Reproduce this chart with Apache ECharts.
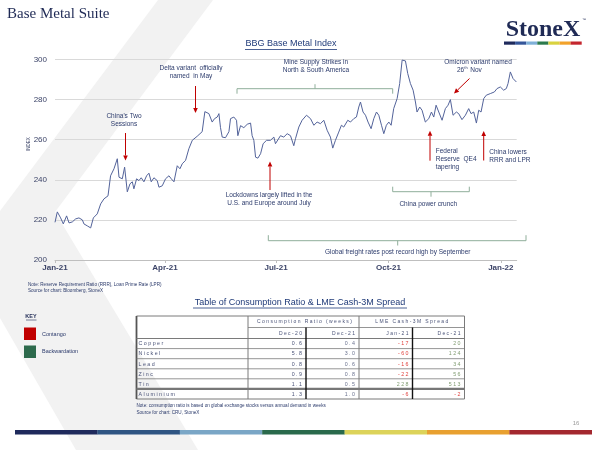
<!DOCTYPE html>
<html>
<head>
<meta charset="utf-8">
<script src="https://cdn.jsdelivr.net/npm/echarts@6/dist/echarts.min.js"></script>
<style>
html,body{margin:0;padding:0;background:#fff;}
#c{width:600px;height:450px;}
</style>
</head>
<body>
<div id="c"></div>
<script>
// ---- Data ----
// Day offsets since 1 Jan 2021
var dayOffsets = [
0,1.9,4.6,6.8,9.5,11.5,14.2,16.9,19.6,22.4,
23.7,26.5,29.2,31.4,34.6,37.4,40.1,43.4,45.5,48.3,
51,52.4,55.1,57,59.2,61.4,63.3,64.6,66.8,68.7,
70.6,72.8,75,76.9,78.8,81,83.7,85.1,87.8,90.5,
93.3,95.2,97.4,100.1,102.3,104.2,106.9,109.6,112.4,116.4,
120.5,122.7,126,128.7,130.6,132.8,134.2,135.5,136.9,139.6,
142.4,143.7,146.4,148.6,149.7,151.9,154.6,157.4,160.1,161.4,
162.8,164.2,166.1,168.3,170.4,173.2,176.4,179.2,180.5,181.9,
184.6,187.3,190.1,192.8,195.5,196.9,199.6,202.3,205.9,209.2,
211.9,214.6,217.3,220.1,222.8,225.5,227.4,229.6,232.3,234.5,
236.4,239.7,241.9,244.6,246.8,248.7,250.1,252.2,254.2,256.3,
258.8,261,263.2,265.1,267.3,269.2,271.3,273.3,275.2,277.3,
280.1,282.2,284.2,286.9,288.8,291,293.2,295.1,296.4,298.6,
300.5,303.2,306,308.2,310.1,312,314.2,316.9,319.6,321.8,
323.7,325.9,328.6,330.5,333.2,336,338.7,340.6,342.8,345,
346.9,348.8,351,353.1,356.4,359.7,361.9,364.6,367.3,369.5,
370.9,372.8,375,377.7
];
var indexValues = [
218.8,224,221,218,222,218.5,219,220.5,221,220,
218,217,216,221,223,228,230.5,232,242,245.5,
250.5,241.3,240.5,246.3,234,238,239,235.5,240.5,239.6,
241,239,242,243.3,239,241,239.6,236.3,237,240.5,
242,240.5,239,247,245.5,248,249.7,255.5,259.7,261.7,
264,274,273,268.8,270.5,271.3,273,266,261.3,261,
264,270.5,271.3,269.7,262,267,266,267.7,268.3,262,
259.7,251.3,250.8,253,258,259.7,259.7,261.3,258,258.8,
262,261.3,263,262,257,260.5,266.3,269.7,272.2,270.5,
267.2,268.8,268,269.7,264.7,261.3,255.8,259.7,263.8,267.2,
266.3,269.7,268.8,270.5,271.3,276.3,278.8,273.8,272.2,268.8,
265.5,270.5,273.8,272.2,267.2,263,267.2,268.8,267.2,275.5,
280.5,288,299.7,299.3,293,288,284.7,278.8,273.8,276.3,
274.7,268.8,270.5,273.8,271.3,277.2,273.8,269.7,275.5,277.2,
280,272.2,273.8,273,270,272.2,275.5,273,273.8,268.3,
274.7,273.8,280.5,282.2,283,283.8,285.5,286.3,284.7,285.5,
288,293.8,290.5,288.8
];
var tickDays = [0, 90, 181, 273, 365];
var tickLabels = ['Jan-21', 'Apr-21', 'Jul-21', 'Oct-21', 'Jan-22'];

var metals = ['Copper', 'Nickel', 'Lead', 'Zinc', 'Tin', 'Aluminium'];
var consDec20 = ['0.6', '5.8', '0.8', '0.9', '1.1', '1.3'];
var consDec21 = ['0.4', '3.0', '0.6', '0.8', '0.5', '1.0'];
var spreadJan21 = [-17, -60, -16, -22, 228, -6];
var spreadDec21 = [20, 124, 34, 56, 513, -2];
var tableHeaders = ['Consumption Ratio (weeks)', 'LME Cash-3M Spread'];
var subHeaders = ['Dec-20', 'Dec-21', 'Jan-21', 'Dec-21'];

// ---- Helpers ----
var SANS = '"Liberation Sans", Arial, sans-serif';
var SERIF = '"Liberation Serif", "Times New Roman", serif';
var NAVY = '#2b3a6b';
var G = [];
function txt(x, y, text, o) {
  o = o || {};
  return {
    type: 'text', x: x, y: y, silent: true, z: o.z || 10,
    rotation: o.rotation || 0,
    style: {
      text: text, fill: o.fill || NAVY,
      fontSize: o.size || 6.5, fontFamily: o.family || SANS,
      fontWeight: o.weight || 'normal',
      textAlign: o.align || 'center', align: o.align || 'center',
      textVerticalAlign: 'middle', verticalAlign: 'middle'
    }
  };
}
function ln(x1, y1, x2, y2, color, w, z) {
  return { type: 'line', silent: true, z: z || 10,
    shape: { x1: x1, y1: y1, x2: x2, y2: y2 },
    style: { stroke: color, lineWidth: w || 1 } };
}
function rc(x, y, w, h, fill, z) {
  return { type: 'rect', silent: true, z: z || 10,
    shape: { x: x, y: y, width: w, height: h }, style: { fill: fill } };
}
function arrow(x1, y1, x2, y2) {
  var dx = x2 - x1, dy = y2 - y1, L = Math.sqrt(dx * dx + dy * dy);
  var ux = dx / L, uy = dy / L, hl = 5, hw = 2.3;
  var bx = x2 - ux * hl, by = y2 - uy * hl;
  G.push(ln(x1, y1, bx, by, '#c00000', 1));
  G.push({ type: 'polygon', silent: true, z: 10,
    shape: { points: [[x2, y2], [bx - uy * hw, by + ux * hw], [bx + uy * hw, by - ux * hw]] },
    style: { fill: '#c00000' } });
}
function bracket(x1, x2, y, endDy, midX, midDy) {
  var c = '#8fae9a';
  G.push(ln(x1, y, x2, y, c, 1));
  G.push(ln(x1, y, x1, y + endDy, c, 1));
  G.push(ln(x2, y, x2, y + endDy, c, 1));
  G.push(ln(midX, y, midX, y + midDy, c, 1));
}
function spaced(s) { return s.split('').join(' '); }

// ---- Watermark ----
G.push({ type: 'polygon', silent: true, z: -10,
  shape: { points: [[158, 0], [213, 0], [55, 212], [198, 450], [76, 450], [0, 318], [0, 211]] },
  style: { fill: '#f2f2f2' } });

// ---- Header ----
G.push(txt(7, 14, 'Base Metal Suite', { align: 'left', size: 15, family: SERIF, fill: '#1f2a55' }));
G.push(txt(543, 30, 'StoneX', { size: 24, family: SERIF, fill: '#1f2a55', weight: 'bold' }));
G.push(txt(584, 20, '\u2122', { size: 4, fill: '#1f2a55' }));
var logoColors = ['#1f2a5c', '#34569a', '#7fb0d8', '#2b7a4c', '#d9d23f', '#f2a22a', '#c4262e'];
for (var i = 0; i < 7; i++) G.push(rc(504 + i * 11.1, 41.5, 11.1, 3.2, logoColors[i]));

// Chart title
G.push(txt(291, 44, 'BBG Base Metal Index', { size: 9, fill: '#1f3a78' }));
G.push(ln(245, 49.5, 337, 49.5, '#1f3a78', 0.8));

// Y axis name (tiny rotated)
G.push(txt(29, 144, 'INDEX', { size: 4.5, rotation: Math.PI / 2, fill: '#3c4468' }));

// ---- Annotations ----
G.push(txt(124, 116.5, "China's Two"));
G.push(txt(124, 124.5, 'Sessions'));
arrow(125.5, 133, 125.5, 160.5);

G.push(txt(191, 68.5, 'Delta variant  officially'));
G.push(txt(191, 76.5, 'named  in May'));
arrow(195.5, 86, 195.5, 113);

G.push(txt(316, 62.7, 'Mine Supply Strikes in'));
G.push(txt(316, 70.7, 'North & South America'));
bracket(237, 392.7, 88.7, 5, 315, -4.5);

G.push(txt(269, 195.5, 'Lockdowns largely lifted in the'));
G.push(txt(269, 203.3, 'U.S. and Europe around July'));
arrow(270, 190, 270, 161.5);

G.push(txt(478, 62.7, 'Omicron variant named'));
G.push(txt(457, 70.3, '26', { align: 'left' }));
G.push(txt(464.3, 68.3, 'th', { align: 'left', size: 4 }));
G.push(txt(468.5, 70.3, ' Nov', { align: 'left' }));
arrow(469.5, 78.5, 454, 93.5);

G.push(txt(435.7, 151, 'Federal', { align: 'left' }));
G.push(txt(435.7, 159, 'Reserve  QE4', { align: 'left' }));
G.push(txt(435.7, 167.3, 'tapering', { align: 'left' }));
arrow(430, 160.7, 430, 130.7);

G.push(txt(489.3, 152.3, 'China lowers', { align: 'left' }));
G.push(txt(489.3, 160.3, 'RRR and LPR', { align: 'left' }));
arrow(483.7, 160.5, 483.7, 131);

bracket(392.7, 469.3, 191.7, -5, 431, 5);
G.push(txt(428.3, 204, 'China power crunch'));

bracket(268.3, 526, 240.7, -5.5, 397.7, 4.8);
G.push(txt(397.7, 252, 'Global freight rates post record high by September'));

// Chart notes
G.push(txt(28, 285, 'Note: Reserve Requirement Ratio (RRR), Loan Prime Rate (LPR)', { align: 'left', size: 4.6 }));
G.push(txt(28, 290.5, 'Source for chart: Bloomberg, StoneX', { align: 'left', size: 4.6 }));

// ---- Key ----
G.push(txt(31, 316.7, 'KEY', { size: 5.5, weight: 'bold', fill: '#1f2a55' }));
G.push(ln(26, 320, 36.5, 320, '#1f2a55', 0.6));
G.push(rc(24, 327.5, 12, 12.5, '#c00000'));
G.push(txt(42, 334, 'Contango', { align: 'left', size: 5.5 }));
G.push(rc(24, 345.5, 12, 12.5, '#2d6a4c'));
G.push(txt(42, 351.8, 'Backwardation', { align: 'left', size: 5.5 }));

// ---- Table ----
G.push(txt(300, 302.5, 'Table of Consumption Ratio & LME Cash-3M Spread', { size: 9, fill: '#1f3a78' }));
G.push(ln(193, 308, 407, 308, '#1f3a78', 0.8));

var TL = 136.5, TR = 464.5, TT = 316, TB = 399;
var colX = [248, 306, 359, 412.5, 464.5];
var rowY = [338.5, 348.6, 358.7, 368.8, 378.8, 388.9, 399];
var gridC = '#7a7a7a', txtC = '#4a5378';
G.push(ln(TL, TT, TR, TT, gridC, 1));
G.push(ln(TL, TB, TR, TB, gridC, 1.2));
G.push(ln(TL, TT, TL, TB, '#555', 1.8));
G.push(ln(TR, TT, TR, TB, gridC, 1));
G.push(ln(colX[0], 327.5, TR, 327.5, gridC, 0.8));
G.push(ln(TL, rowY[0], TR, rowY[0], gridC, 1));
for (var r = 1; r < 5; r++) G.push(ln(TL, rowY[r], TR, rowY[r], gridC, 0.8));
G.push(ln(TL, rowY[5], TR, rowY[5], '#777', 2.2));
G.push(ln(colX[0], TT, colX[0], TB, gridC, 1));
G.push(ln(colX[2], TT, colX[2], TB, gridC, 1));
G.push(ln(colX[1], 327.5, colX[1], TB, '#111', 1.4));
G.push(ln(colX[3], 327.5, colX[3], TB, '#111', 1.4));

G.push(txt((colX[0] + colX[2]) / 2 + 1, 321.7, spaced(tableHeaders[0]), { size: 5, fill: txtC }));
G.push(txt((colX[2] + colX[4]) / 2, 321.7, spaced(tableHeaders[1]), { size: 5, fill: txtC }));
for (var h = 0; h < 4; h++) G.push(txt(colX[h + 1] - 4, 333.2, spaced(subHeaders[h]), { size: 5, align: 'right', fill: txtC }));
for (var m = 0; m < metals.length; m++) {
  var cy = (rowY[m] + rowY[m + 1]) / 2 + 0.3;
  G.push(txt(138.5, cy, spaced(metals[m]), { size: 5.3, align: 'left', fill: txtC }));
  G.push(txt(colX[1] - 4, cy, spaced(consDec20[m]), { size: 5.3, align: 'right', fill: txtC }));
  G.push(txt(colX[2] - 4, cy, spaced(consDec21[m]), { size: 5.3, align: 'right', fill: '#6b7390' }));
  var a = spreadJan21[m], b = spreadDec21[m];
  G.push(txt(colX[3] - 4, cy, spaced(String(a)), { size: 5.3, align: 'right', fill: a < 0 ? '#e0403c' : '#7f9b70' }));
  G.push(txt(colX[4] - 4, cy, spaced(String(b)), { size: 5.3, align: 'right', fill: b < 0 ? '#e0403c' : '#7f9b70' }));
}
G.push(txt(136.5, 405.7, 'Note: consumption ratio is based on global exchange stocks versus annual demand in weeks', { align: 'left', size: 4.6 }));
G.push(txt(136.5, 412.3, 'Source for chart: CRU, StoneX', { align: 'left', size: 4.6 }));

// ---- Footer ----
G.push(txt(576, 423, '16', { size: 6, fill: '#9a9a9a' }));
var footColors = ['#1f2a5c', '#2f5583', '#7aa6c6', '#2a6a4c', '#dcd35a', '#e8a030', '#a3282f'];
for (var k = 0; k < 7; k++) G.push(rc(15 + k * 82.4, 430, 82.6, 4.5, footColors[k]));

// ---- Chart ----
var seriesData = dayOffsets.map(function (d, i) { return [d, indexValues[i]]; });
var chart = echarts.init(document.getElementById('c'), null, { renderer: 'canvas' });
chart.setOption({
  backgroundColor: '#ffffff',
  animation: false,
  grid: { left: 55, right: 83.3, top: 59.5, bottom: 190, outerBoundsMode: 'none', containLabel: false },
  xAxis: {
    type: 'value', min: 0, max: 378,
    axisLine: { show: true, lineStyle: { color: '#bfbfbf', width: 1 } },
    axisTick: { show: true, length: 3, customValues: tickDays, lineStyle: { color: '#bfbfbf' } },
    splitLine: { show: false },
    axisLabel: {
      customValues: tickDays, margin: 4,
      formatter: function (v) { var i = tickDays.indexOf(v); return i >= 0 ? tickLabels[i] : ''; },
      color: '#3c4468', fontSize: 8, fontWeight: 'bold', fontFamily: SANS
    }
  },
  yAxis: {
    type: 'value', min: 200, max: 300, interval: 20,
    axisLine: { show: false }, axisTick: { show: false },
    splitLine: { show: true, lineStyle: { color: '#d9d9d9', width: 1 } },
    axisLabel: { color: '#3c4468', fontSize: 8, fontFamily: SANS, margin: 8 }
  },
  series: [{
    type: 'line', data: seriesData, showSymbol: false, symbol: 'none',
    lineStyle: { color: '#53639a', width: 1 }, z: 5
  }],
  graphic: G
});
</script>
</body>
</html>
